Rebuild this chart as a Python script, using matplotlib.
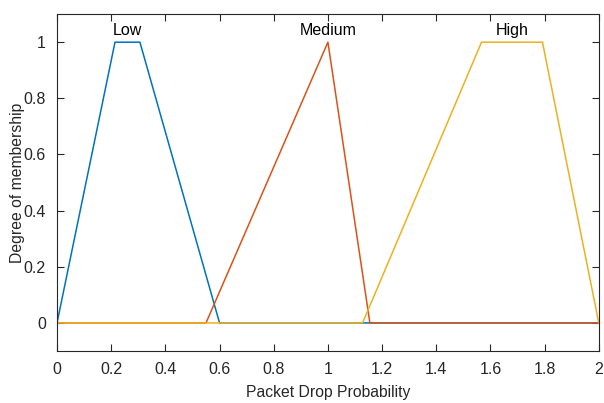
import matplotlib.pyplot as plt

# membership function breakpoints (x, y)
low_x = [0, 0.214, 0.306, 0.60, 2.0]
low_y = [0, 1, 1, 0, 0]
medium_x = [0, 0.55, 1.0, 1.155, 2.0]
medium_y = [0, 0, 1, 0, 0]
high_x = [0, 1.128, 1.567, 1.792, 2.0]
high_y = [0, 0, 1, 1, 0]

labels = ['Low', 'Medium', 'High']
label_x = [0.26, 1.0, 1.68]

colors = ['#0072BD', '#D95319', '#EDB120']

plt.rcParams['font.family'] = ['Liberation Sans', 'DejaVu Sans']

fig = plt.figure(figsize=(6.04, 4.03), dpi=100)
ax = fig.add_axes([0.0944, 0.129, 0.897, 0.836])

ax.plot(low_x, low_y, color=colors[0], lw=1.1)
ax.plot(medium_x, medium_y, color=colors[1], lw=1.1)
ax.plot(high_x, high_y, color=colors[2], lw=1.1)

for lab, lx in zip(labels, label_x):
    ax.text(lx, 1.015, lab, ha='center', va='bottom', fontsize=11.5)

ax.set_xlim(0, 2)
ax.set_ylim(-0.1, 1.1)
ax.set_xticks([0, 0.2, 0.4, 0.6, 0.8, 1, 1.2, 1.4, 1.6, 1.8, 2])
ax.set_xticklabels(['0', '0.2', '0.4', '0.6', '0.8', '1', '1.2', '1.4', '1.6', '1.8', '2'])
ax.set_yticks([0, 0.2, 0.4, 0.6, 0.8, 1])
ax.set_yticklabels(['0', '0.2', '0.4', '0.6', '0.8', '1'])
ax.tick_params(direction='in', top=True, right=True, labelsize=11.5, colors='#262626',
               length=5, width=0.8, pad=8)
for sp in ax.spines.values():
    sp.set_color('#262626')
    sp.set_linewidth(0.8)
ax.set_xlabel('Packet Drop Probability', fontsize=11.3, color='#262626', labelpad=6)
ax.set_ylabel('Degree of membership', fontsize=11.3, color='#262626', labelpad=-1)

fig.savefig('out.png', dpi=100)
